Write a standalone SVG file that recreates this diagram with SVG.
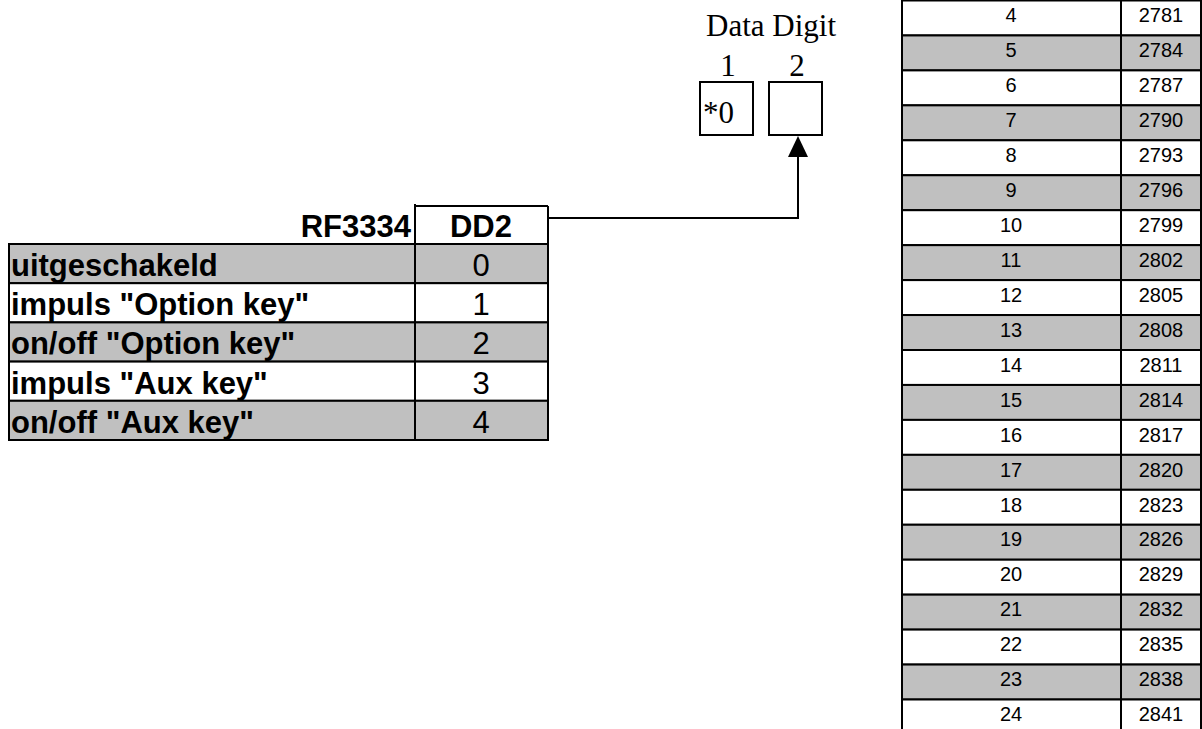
<svg xmlns="http://www.w3.org/2000/svg" width="1202" height="729" viewBox="0 0 1202 729">
<defs>
<style>
.bg{fill:#ffffff}
.g{fill:#c0c0c0;stroke:#000;stroke-width:2}
.w{fill:#ffffff;stroke:#000;stroke-width:2}
.ln{stroke:#000;stroke-width:2;fill:none}
.lb{font-family:"Liberation Sans",Arial,sans-serif;font-weight:bold;font-size:31px;fill:#000}
.lv{font-family:"Liberation Sans",Arial,sans-serif;font-size:31px;fill:#000;text-anchor:middle}
.rt{font-family:"Liberation Sans",Arial,sans-serif;font-size:20px;fill:#000;text-anchor:middle}
.tm{font-family:"Liberation Serif","Times New Roman",serif;font-size:31px;fill:#000}
</style>
</defs>
<rect class="bg" x="0" y="0" width="1202" height="729"/>

<g id="left-table">
<line class="ln" x1="415" y1="204" x2="415" y2="244"/>
<line class="ln" x1="415" y1="206" x2="548" y2="206"/>
<line class="ln" x1="548" y1="206" x2="548" y2="244"/>
<text class="lb" x="411" y="237" text-anchor="end">RF3334</text>
<text class="lb" x="481" y="237" text-anchor="middle">DD2</text>
<rect class="g" x="9" y="244" width="539" height="39.2"/>
<rect class="w" x="9" y="283.2" width="539" height="39.2"/>
<rect class="g" x="9" y="322.4" width="539" height="39.2"/>
<rect class="w" x="9" y="361.6" width="539" height="39.2"/>
<rect class="g" x="9" y="400.8" width="539" height="39.2"/>
<line class="ln" x1="415" y1="244" x2="415" y2="440"/>
<text class="lb" x="11" y="276">uitgeschakeld</text>
<text class="lb" x="11" y="315">impuls "Option key"</text>
<text class="lb" x="11" y="354">on/off "Option key"</text>
<text class="lb" x="11" y="394">impuls "Aux key"</text>
<text class="lb" x="11" y="433">on/off "Aux key"</text>
<text class="lv" x="481" y="276">0</text>
<text class="lv" x="481" y="315">1</text>
<text class="lv" x="481" y="354">2</text>
<text class="lv" x="481" y="394">3</text>
<text class="lv" x="481" y="433">4</text>
</g>

<g id="data-digit">
<text class="tm" x="771" y="36" text-anchor="middle">Data Digit</text>
<text class="tm" x="728" y="76" text-anchor="middle">1</text>
<text class="tm" x="797" y="76" text-anchor="middle">2</text>
<rect class="w" x="700" y="82" width="53" height="53"/>
<text class="tm" x="703" y="123">*0</text>
<rect id="digit2" class="w" x="769" y="82" width="53" height="53"/>
</g>

<g id="connectors">
<polyline class="ln" points="549,218 798,218 798,156"/>
<path d="M788,157 L808,157 L798,136 Z" fill="#000"/>
</g>

<g id="right-table">
<rect class="w" x="902" y="0.5" width="299" height="34.95"/>
<rect class="g" x="902" y="35.45" width="299" height="34.95"/>
<rect class="w" x="902" y="70.4" width="299" height="34.95"/>
<rect class="g" x="902" y="105.35" width="299" height="34.95"/>
<rect class="w" x="902" y="140.3" width="299" height="34.95"/>
<rect class="g" x="902" y="175.25" width="299" height="34.95"/>
<rect class="w" x="902" y="210.2" width="299" height="34.95"/>
<rect class="g" x="902" y="245.15" width="299" height="34.95"/>
<rect class="w" x="902" y="280.1" width="299" height="34.95"/>
<rect class="g" x="902" y="315.05" width="299" height="34.95"/>
<rect class="w" x="902" y="350" width="299" height="34.95"/>
<rect class="g" x="902" y="384.95" width="299" height="34.95"/>
<rect class="w" x="902" y="419.9" width="299" height="34.95"/>
<rect class="g" x="902" y="454.85" width="299" height="34.95"/>
<rect class="w" x="902" y="489.8" width="299" height="34.95"/>
<rect class="g" x="902" y="524.75" width="299" height="34.95"/>
<rect class="w" x="902" y="559.7" width="299" height="34.95"/>
<rect class="g" x="902" y="594.65" width="299" height="34.95"/>
<rect class="w" x="902" y="629.6" width="299" height="34.95"/>
<rect class="g" x="902" y="664.55" width="299" height="34.95"/>
<rect class="w" x="902" y="699.5" width="299" height="34.95"/>
<line class="ln" x1="1121" y1="0" x2="1121" y2="729"/>
<text class="rt" x="1011" y="22">4</text><text class="rt" x="1161" y="22">2781</text>
<text class="rt" x="1011" y="57">5</text><text class="rt" x="1161" y="57">2784</text>
<text class="rt" x="1011" y="92">6</text><text class="rt" x="1161" y="92">2787</text>
<text class="rt" x="1011" y="127">7</text><text class="rt" x="1161" y="127">2790</text>
<text class="rt" x="1011" y="162">8</text><text class="rt" x="1161" y="162">2793</text>
<text class="rt" x="1011" y="197">9</text><text class="rt" x="1161" y="197">2796</text>
<text class="rt" x="1011" y="232">10</text><text class="rt" x="1161" y="232">2799</text>
<text class="rt" x="1011" y="267">11</text><text class="rt" x="1161" y="267">2802</text>
<text class="rt" x="1011" y="302">12</text><text class="rt" x="1161" y="302">2805</text>
<text class="rt" x="1011" y="337">13</text><text class="rt" x="1161" y="337">2808</text>
<text class="rt" x="1011" y="372">14</text><text class="rt" x="1161" y="372">2811</text>
<text class="rt" x="1011" y="407">15</text><text class="rt" x="1161" y="407">2814</text>
<text class="rt" x="1011" y="442">16</text><text class="rt" x="1161" y="442">2817</text>
<text class="rt" x="1011" y="477">17</text><text class="rt" x="1161" y="477">2820</text>
<text class="rt" x="1011" y="512">18</text><text class="rt" x="1161" y="512">2823</text>
<text class="rt" x="1011" y="546">19</text><text class="rt" x="1161" y="546">2826</text>
<text class="rt" x="1011" y="581">20</text><text class="rt" x="1161" y="581">2829</text>
<text class="rt" x="1011" y="616">21</text><text class="rt" x="1161" y="616">2832</text>
<text class="rt" x="1011" y="651">22</text><text class="rt" x="1161" y="651">2835</text>
<text class="rt" x="1011" y="686">23</text><text class="rt" x="1161" y="686">2838</text>
<text class="rt" x="1011" y="721">24</text><text class="rt" x="1161" y="721">2841</text>
</g>
</svg>
